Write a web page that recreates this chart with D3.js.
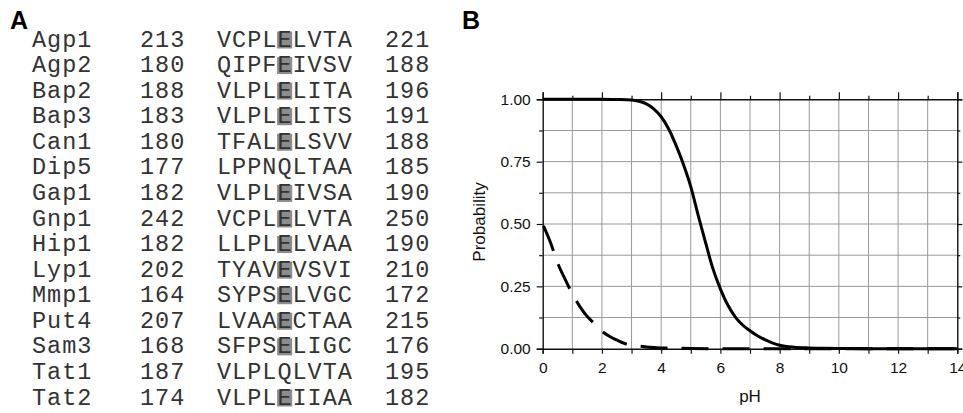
<!DOCTYPE html>
<html>
<head>
<meta charset="utf-8">
<script src="https://cdn.jsdelivr.net/npm/d3@7"></script>
<style>
  html, body { margin: 0; padding: 0; background: #fff; }
  svg { display: block; }
</style>
</head>
<body>
<svg id="chart" width="963" height="413"></svg>
<script>
// ---------- Panel A data ----------
const proteins = ["Agp1","Agp2","Bap2","Bap3","Can1","Dip5","Gap1","Gnp1","Hip1","Lyp1","Mmp1","Put4","Sam3","Tat1","Tat2"];
const startPos = [213,180,188,183,180,177,182,242,182,202,164,207,168,187,174];
const motifs = ["VCPLELVTA","QIPFEIVSV","VLPLELITA","VLPLELITS","TFALELSVV","LPPNQLTAA","VLPLEIVSA","VCPLELVTA","LLPLELVAA","TYAVEVSVI","SYPSELVGC","LVAAECTAA","SFPSELIGC","VLPLQLVTA","VLPLEIIAA"];
const endPos = [221,188,196,191,188,185,190,250,190,210,172,215,176,195,182];
const highlightIndex = 4; // highlighted residue (E) in each motif

// ---------- Panel B data ----------
const pHSolid = [0,0.5,1,1.5,2,2.5,3,3.25,3.5,3.75,4,4.25,4.5,4.75,5,5.25,5.5,5.75,6,6.25,6.5,6.75,7,7.25,7.5,7.75,8,8.5,9,9.5,10,11,12,13,14];
const probSolid = [1,1,1,1,1,0.999,0.997,0.992,0.982,0.962,0.93,0.882,0.816,0.74,0.65,0.535,0.425,0.32,0.24,0.175,0.128,0.095,0.072,0.052,0.036,0.023,0.014,0.006,0.003,0.0015,0.001,0,0,0,0];
const pHDashed = [0,0.25,0.5,0.75,1,1.25,1.5,1.75,2,2.25,2.5,2.75,3,3.5,4,4.5,5,6,7,8,9,10,11,12,13,14];
const probDashed = [0.5,0.43,0.345,0.28,0.22,0.17,0.13,0.1,0.07,0.05,0.035,0.022,0.015,0.007,0.003,0.002,0.001,0,0,0,0,0,0,0,0,0];
const xTickLabels = [0,2,4,6,8,10,12,14];
const yTickLabels = [0,0.25,0.5,0.75,1];

const svg = d3.select("#chart");

// ---------- Panel A ----------
const monoFont = "'Liberation Mono', 'Courier New', Courier, monospace";
const fs = 23.5, ls = 1.0, charW = fs * 0.6 + ls;
const rowY = d3.scalePoint().domain(d3.range(proteins.length)).range([40, 398]);
const colX = { name: 32, start: 140, seq: 217, end: 385 };

svg.append("text").attr("x", 10).attr("y", 29)
  .attr("font-family", "'Liberation Sans', Arial, Helvetica, sans-serif")
  .attr("font-weight", "bold").attr("font-size", 25).attr("fill", "#000").text("A");

const gA = svg.append("g");
const rows = gA.selectAll("g.row").data(proteins.map((p, i) => ({p, i})))
  .join("g").attr("class", "row")
  .attr("transform", d => `translate(0,${rowY(d.i)})`);

rows.filter(d => motifs[d.i][highlightIndex] === "E")
  .append("rect")
  .attr("x", colX.seq + highlightIndex * charW - 0.3)
  .attr("y", -8.5).attr("width", charW).attr("height", 17)
  .attr("fill", "#8c8c8c");

const txt = (sel, x, f) => sel.append("text").attr("x", x).attr("y", 6.6)
  .attr("font-family", monoFont).attr("font-size", fs)
  .style("letter-spacing", ls + "px").attr("fill", "#333").text(f);

txt(rows, colX.name, d => proteins[d.i]);
txt(rows, colX.start, d => startPos[d.i]);
txt(rows, colX.seq, d => motifs[d.i]);
txt(rows, colX.end, d => endPos[d.i]);

// ---------- Panel B ----------
const sans = "'Liberation Sans', Arial, Helvetica, sans-serif";
svg.append("text").attr("x", 462).attr("y", 29)
  .attr("font-family", sans).attr("font-weight", "bold").attr("font-size", 25).attr("fill", "#000").text("B");

const x = d3.scaleLinear().domain([0, 14]).range([542.7, 957.3]);
const y = d3.scaleLinear().domain([0, 1]).range([348.7, 99.3]);

const gB = svg.append("g");
const intTicks = d3.range(0, 15);
const yMinor = d3.range(0, 1.0001, 0.125);

// grid
gB.append("g").selectAll("line").data(intTicks.slice(1, -1)).join("line")
  .attr("x1", d => x(d)).attr("x2", d => x(d)).attr("y1", y(0)).attr("y2", y(1))
  .attr("stroke", "#999").attr("stroke-width", 1);
gB.append("g").selectAll("line").data(yMinor.slice(1, -1)).join("line")
  .attr("x1", x(0)).attr("x2", x(14)).attr("y1", d => y(d)).attr("y2", d => y(d))
  .attr("stroke", "#999").attr("stroke-width", 1);

// axes
const styleAxis = g => {
  g.select(".domain").attr("stroke", "#111").attr("stroke-width", 1.4);
  g.selectAll(".tick line").attr("stroke", "#111").attr("stroke-width", 1.2);
  g.selectAll(".tick text").attr("font-family", sans).attr("font-size", 15.5).attr("fill", "#111");
};
const fmtY = d3.format(".2f");
const isMajorY = d => yTickLabels.some(v => Math.abs(v - d) < 1e-6);

// left
gB.append("g").attr("transform", `translate(${x(0)},0)`)
  .call(d3.axisLeft(y).tickValues(yMinor).tickSizeOuter(0)
    .tickSize(6).tickPadding(6)
    .tickFormat(d => isMajorY(d) ? fmtY(d) : ""))
  .call(styleAxis)
  .call(g => g.selectAll(".tick").filter(d => !isMajorY(d)).select("line").attr("x2", -3.5));
// right
gB.append("g").attr("transform", `translate(${x(14)},0)`)
  .call(d3.axisRight(y).tickValues(yMinor).tickSizeOuter(0).tickSize(5).tickFormat(""))
  .call(styleAxis)
  .call(g => g.selectAll(".tick").filter(d => !isMajorY(d)).select("line").attr("x2", 3));
// bottom
gB.append("g").attr("transform", `translate(0,${y(0)})`)
  .call(d3.axisBottom(x).tickValues(intTicks).tickSizeOuter(0).tickSize(5).tickPadding(8)
    .tickFormat(d => xTickLabels.includes(d) ? String(d) : ""))
  .call(styleAxis);
// top
gB.append("g").attr("transform", `translate(0,${y(1)})`)
  .call(d3.axisTop(x).tickValues(intTicks).tickSizeOuter(0).tickSize(7).tickFormat(""))
  .call(styleAxis)
  .call(g => g.selectAll(".tick").filter(d => !xTickLabels.includes(d)).select("line").attr("y2", -3.5));

// axis titles
gB.append("text").attr("transform", `translate(485,222) rotate(-90)`)
  .attr("text-anchor", "middle").attr("font-family", sans).attr("font-size", 17).attr("fill", "#111")
  .text("Probability");
gB.append("text").attr("x", (x(0) + x(14)) / 2).attr("y", 402)
  .attr("text-anchor", "middle").attr("font-family", sans).attr("font-size", 17).attr("fill", "#111")
  .text("pH");

// curves
const line = d3.line().x(d => x(d[0])).y(d => y(d[1])).curve(d3.curveMonotoneX);
gB.append("path").datum(pHDashed.map((p, i) => [p, probDashed[i]]))
  .attr("d", line).attr("fill", "none").attr("stroke", "#000")
  .attr("stroke-width", 3).attr("stroke-dasharray", "27,14").attr("stroke-dashoffset", -2);
gB.append("path").datum(pHSolid.map((p, i) => [p, probSolid[i]]))
  .attr("d", line).attr("fill", "none").attr("stroke", "#000")
  .attr("stroke-width", 3).attr("stroke-linejoin", "round");
</script>
</body>
</html>
